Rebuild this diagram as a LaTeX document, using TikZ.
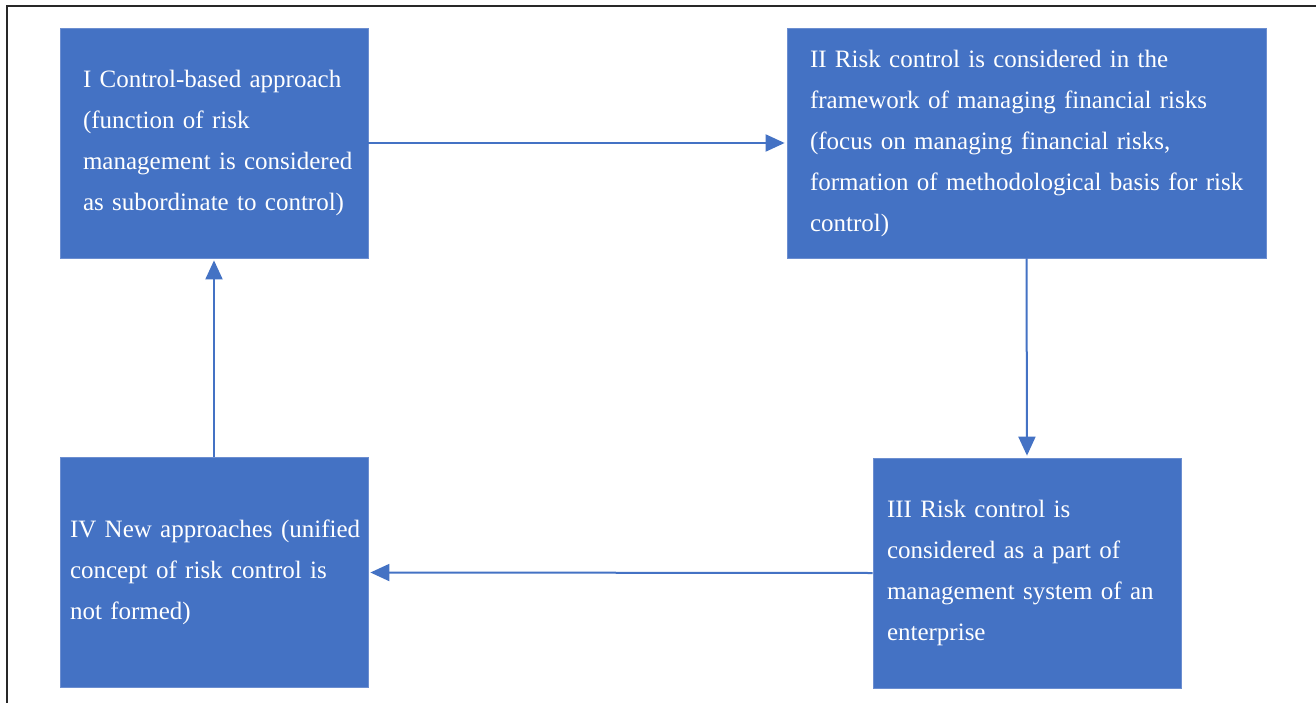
\documentclass[tikz,border=0pt]{standalone}
\usepackage{fontspec}
\setmainfont{Liberation Serif}
\usetikzlibrary{arrows.meta}
\definecolor{boxblue}{RGB}{68,114,196}
\definecolor{boxedge}{RGB}{108,142,208}
\definecolor{frameline}{RGB}{40,40,40}
\newcommand\stagetext[2]{\leftskip=#1\rightskip=0pt plus 1fil\parindent=0pt\parfillskip=0pt plus 1fil\relax #2\par}
\tikzset{
  stagebox/.style={rectangle, fill=boxblue, draw=boxedge, line width=0.8pt,
    text=white, inner xsep=0pt, inner ysep=0pt,
    font=\fontsize{25}{41}\selectfont, minimum height=230pt},
  flowarrow/.style={draw=boxblue, line width=2pt,
    -{Triangle[length=19pt,width=17pt]}, shorten >=2pt}
}
\begin{document}
\begin{tikzpicture}[x=1pt,y=-1pt]
\useasboundingbox (0,0) rectangle (1316,703);
\fill[white] (0,0) rectangle (1316,703);
\coordinate (frameBL) at (7,703);
\coordinate (frameTL) at (7,6);
\coordinate (frameTR) at (1316,6);
\draw[frameline, line width=1.5pt] (frameBL) -- (frameTL) -- (frameTR);

\node[stagebox, text width=308pt, minimum width=308pt] (I) at (214,143)
  {\stagetext{23pt}{I Control-based approach\par(function of risk\par management is considered\par as subordinate to control)}};
\node[stagebox, text width=479pt, minimum width=479pt] (II) at (1026.5,143)
  {\stagetext{23pt}{II Risk control is considered in the\par framework of managing financial risks\par(focus on managing financial risks,\par formation of methodological basis for risk\par control)}};
\node[stagebox, text width=308pt, minimum width=308pt] (III) at (1027,573)
  {\stagetext{14pt}{III Risk control is\par considered as a part of\par management system of an\par enterprise}};
\node[stagebox, text width=308pt, minimum width=308pt] (IV) at (214,572.5)
  {\stagetext{10pt}{IV New approaches (unified\par concept of risk control is\par not formed)}};

\draw[flowarrow] (I.east) -- (II.west);
\draw[flowarrow] (II.south) -- (III.north);
\draw[flowarrow] (III.west) -- (IV.east);
\draw[flowarrow] (IV.north) -- (I.south);
\end{tikzpicture}
\end{document}
